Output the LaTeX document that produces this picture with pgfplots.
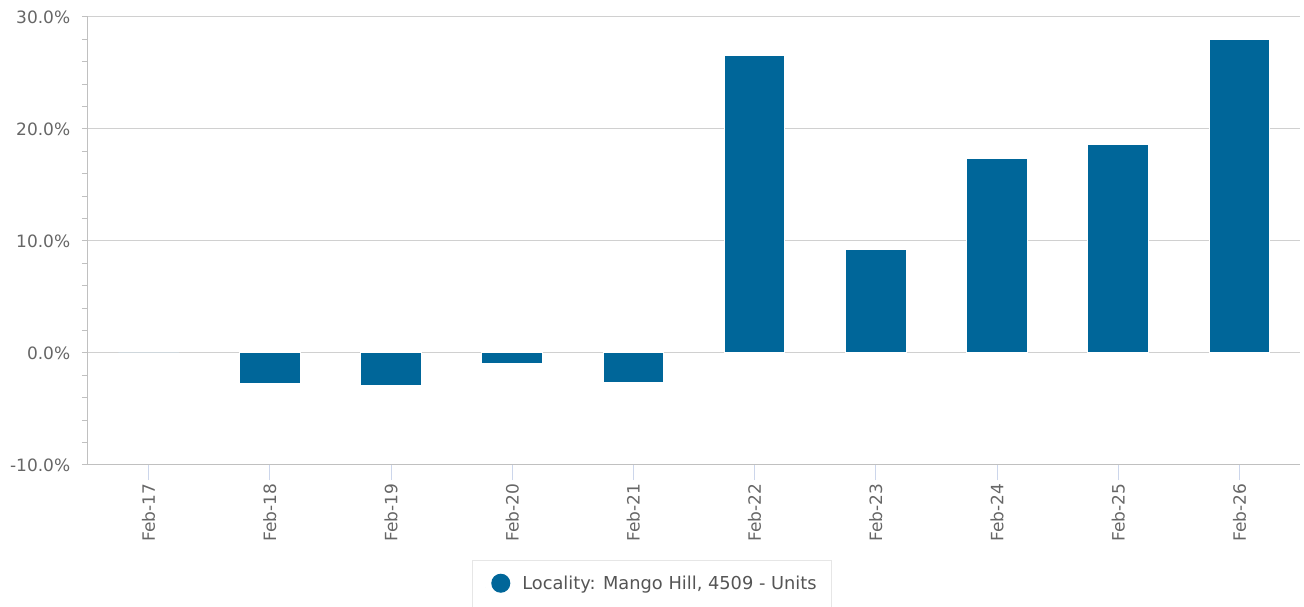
\documentclass[border=0pt]{standalone}
\usepackage{pgfplots}
\pgfplotsset{compat=1.18}
\usepackage{fontspec}
\setmainfont{DejaVu Sans}
\definecolor{barblue}{RGB}{0,102,153}
\definecolor{gridgray}{RGB}{208,208,208}
\definecolor{axisgray}{RGB}{192,192,192}
\definecolor{xtickblue}{RGB}{204,214,235}
\definecolor{labelgray}{RGB}{102,102,102}
\definecolor{legendtext}{RGB}{85,85,85}
\definecolor{legendborder}{RGB}{230,230,230}
\begin{document}
\begin{tikzpicture}
\path[use as bounding box] (-88pt,-142pt) rectangle (1216pt,465pt);
\begin{axis}[
  at={(0pt,0pt)}, anchor=south west,
  scale only axis,
  width=1212pt, height=448pt,
  xmin=-0.5, xmax=9.5,
  ymin=-10, ymax=30,
  axis lines=left,
  axis line style={-, draw=axisgray, line width=1pt},
  ymajorgrids,
  grid style={draw=gridgray, line width=1pt},
  ytick={-10,0,10,20,30},
  minor y tick num=4,
  xtick={0,1,2,3,4,5,6,7,8,9},
  xticklabels={Feb-17,Feb-18,Feb-19,Feb-20,Feb-21,Feb-22,Feb-23,Feb-24,Feb-25,Feb-26},
  tick align=outside,
  xtick style={draw=xtickblue, line width=1pt, /pgfplots/major tick length=15pt},
  ytick style={draw=axisgray, line width=1pt, /pgfplots/major tick length=6pt, /pgfplots/minor tick length=6pt},
  /pgf/number format/assume math mode=true,
  yticklabel={\pgfmathprintnumber[fixed,fixed zerofill,precision=1]{\tick}\%},
  tick label style={font=\fontsize{17}{20}\selectfont, text=labelgray},
  yticklabel style={xshift=-10pt},
  xticklabel shift=11pt,
  xticklabel style={rotate=90, anchor=east},
  ybar,
  bar width=0.5,
  legend style={
    at={(0.4653,-0.212)}, anchor=north,
    draw=legendborder, line width=1pt,
    inner xsep=13pt, inner ysep=13pt,
    font=\fontsize{17.8}{21}\selectfont, text=legendtext,
    nodes={text depth=11pt},
  },
  legend image code/.code={
    \path (0pt,0pt) -- (34pt,0pt);
    \fill[barblue] (15pt,4.5pt) circle (9pt);
  },
]
\addplot[fill=barblue, draw=white, line width=1pt] coordinates {
  (0,0) (1,-2.7) (2,-2.9) (3,-0.9) (4,-2.6)
  (5,26.6) (6,9.2) (7,17.4) (8,18.6) (9,28.0)
};
\addlegendentry{Locality: Mango Hill, 4509 - Units}
\end{axis}
\end{tikzpicture}
\end{document}
